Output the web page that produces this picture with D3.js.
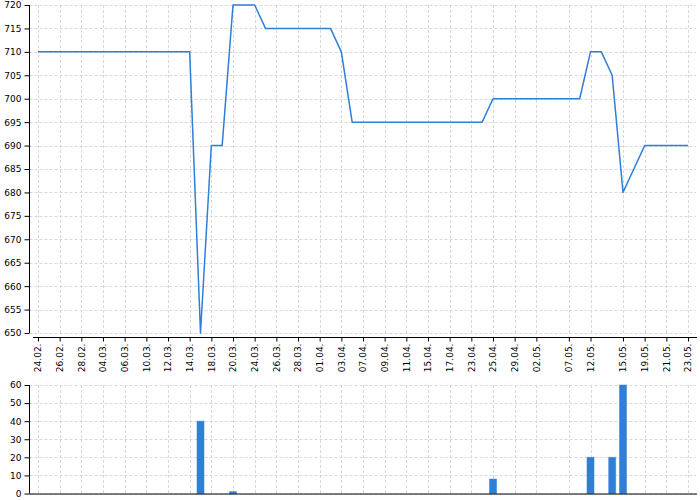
<!DOCTYPE html>
<html><head><meta charset="utf-8">
<script src="https://cdn.jsdelivr.net/npm/d3@7"></script>
<style>body{margin:0;background:#fff}svg{display:block}text{font-family:"DejaVu Sans",sans-serif;font-size:9px;fill:#000}</style>
</head><body><svg id="c" width="700" height="500"></svg>
<script>
const categories = ["24.02.","25.02.","26.02.","27.02.","28.02.","02.03.","04.03.","05.03.","06.03.","08.03.",
"10.03.","11.03.","12.03.","13.03.","14.03.","16.03.","18.03.","19.03.","20.03.","22.03.",
"24.03.","25.03.","26.03.","27.03.","28.03.","30.03.","01.04.","02.04.","03.04.","05.04.",
"07.04.","08.04.","09.04.","10.04.","11.04.","13.04.","15.04.","16.04.","17.04.","20.04.",
"23.04.","24.04.","25.04.","27.04.","29.04.","30.04.","02.05.","04.05.","05.05.","07.05.",
"10.05.","12.05.","13.05.","14.05.","15.05.","17.05.","19.05.","20.05.","21.05.","22.05.","23.05."];
const priceValues = [710,710,710,710,710,710,710,710,710,710,
710,710,710,710,710,650,690,690,720,720,
720,715,715,715,715,715,715,715,710,695,
695,695,695,695,695,695,695,695,695,695,
695,695,700,700,700,700,700,700,700,700,
700,710,710,705,680,685,690,690,690,690,690];
const volumeValues = [0,0,0,0,0,0,0,0,0,0,
0,0,0,0,0,40,0,0,1,0,
0,0,0,0,0,0,0,0,0,0,
0,0,0,0,0,0,0,0,0,0,
0,0,8,0,0,0,0,0,0,0,
0,20,0,20,60,0,0,0,0,0,0];
const tickLabels = ["24.02.","26.02.","28.02.","04.03.","06.03.","10.03.","12.03.","14.03.","18.03.","20.03.",
"24.03.","26.03.","28.03.","01.04.","03.04.","07.04.","09.04.","11.04.","15.04.","17.04.",
"23.04.","25.04.","29.04.","02.05.","07.05.","12.05.","15.05.","19.05.","21.05.","23.05."];
const priceTicks = d3.range(650, 721, 5);
const volumeTicks = d3.range(0, 61, 10);

const svg = d3.select("#c");
const blue = "#2f7ed8";
const left = 29.5, right = 696;
const x = d3.scalePoint().domain(categories).range([38, 688]);
const yP = d3.scaleLinear().domain([650, 720]).range([333, 5]);
const yV = d3.scaleLinear().domain([0, 60]).range([493.5, 385]);

function grid(g, y, ticks, top, bottom) {
  g.selectAll(".h").data(ticks).join("line")
    .attr("x1", left).attr("x2", right).attr("y1", d => Math.round(y(d)) + 0.5).attr("y2", d => Math.round(y(d)) + 0.5)
    .attr("stroke", "#d8d8d8").attr("stroke-dasharray", "3,2");
  g.selectAll(".v").data(tickLabels).join("line")
    .attr("x1", d => Math.round(x(d)) + 0.5).attr("x2", d => Math.round(x(d)) + 0.5).attr("y1", top).attr("y2", bottom)
    .attr("stroke", "#d8d8d8").attr("stroke-dasharray", "3,2");
}

// price panel
const gp = svg.append("g");
grid(gp.append("g"), yP, priceTicks, 5, 333);
gp.append("path").datum(priceValues)
  .attr("fill", "none").attr("stroke", blue).attr("stroke-width", 1.5).attr("stroke-linejoin", "round")
  .attr("d", d3.line().x((d, i) => x(categories[i])).y(d => yP(d)));
const ayP = gp.append("g").attr("transform", `translate(${left},0)`)
  .call(d3.axisLeft(yP).tickValues(priceTicks).tickSize(5).tickPadding(3));
ayP.select(".domain").attr("d", `M-0,${yP(720)}V${yP(650)}`);
const axP = gp.append("g").attr("transform", "translate(0,337.5)")
  .call(d3.axisBottom(x).tickValues(tickLabels).tickSize(4).tickSizeOuter(0));
axP.select(".domain").attr("d", "M33,0H697");
axP.selectAll(".tick text").attr("text-anchor", "end").attr("y", 0).attr("dy", "0.33em")
  .attr("transform", "translate(0,6) rotate(-90)");

// volume panel
const gv = svg.append("g");
grid(gv.append("g"), yV, volumeTicks, 385, 493);
gv.selectAll("rect.bar").data(volumeValues.map((v, i) => ({c: categories[i], v})).filter(d => d.v > 0))
  .join("rect").attr("class", "bar")
  .attr("x", d => x(d.c) - 3.5).attr("width", 7)
  .attr("y", d => yV(d.v)).attr("height", d => yV(0) - yV(d.v))
  .attr("fill", blue).attr("stroke", "rgba(47,126,216,0.5)").attr("stroke-width", 1);
const ayV = gv.append("g").attr("transform", `translate(${left},0)`)
  .call(d3.axisLeft(yV).tickValues(volumeTicks).tickSize(5).tickPadding(3));
ayV.select(".domain").attr("d", `M0,${yV(60)}V${yV(0)}`);
gv.append("line").attr("x1", left).attr("x2", 697).attr("y1", 494).attr("y2", 494).attr("stroke", "#000");

svg.selectAll(".tick text").style("font-size", "9px").attr("fill", "#000");
</script></body></html>
